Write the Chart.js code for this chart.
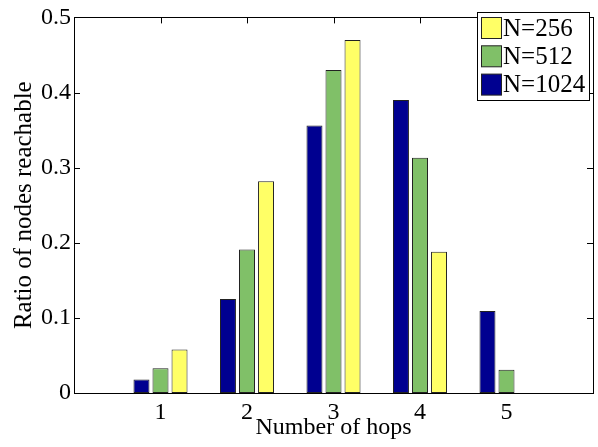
<!DOCTYPE html>
<html>
<head>
<meta charset="utf-8">
<script src="https://cdn.jsdelivr.net/npm/chart.js@4"></script>
<style>
  html, body { margin: 0; padding: 0; background: #fff; }
  canvas { display: block; }
</style>
</head>
<body>
<canvas id="hops-chart" width="598" height="447"></canvas>
<script>
// Values.
const HOPS       = [1, 2, 3, 4, 5];
const N_1024     = [0.018, 0.125, 0.356, 0.390, 0.109];
const N_512      = [0.033, 0.191, 0.430, 0.313, 0.031];
const N_256      = [0.058, 0.282, 0.470, 0.188, 0];
const SERIES     = ['N=1024', 'N=512', 'N=256'];
const Y_TICKS    = [0, 0.1, 0.2, 0.3, 0.4, 0.5];
const X_TICKS    = [1, 2, 3, 4, 5];

const FONT = "'Liberation Serif', 'Times New Roman', serif";
const COLORS = ['#000090', '#80c068', '#ffff66'];

const toPoints = values => values.map((v, i) => ({ x: HOPS[i], y: v }));

// MATLAB-style frame: box around the axes with ticks pointing inward.
const matlabFrame = {
  id: 'matlabFrame',
  beforeDatasetsDraw(chart) {
    const { ctx, chartArea: a, scales: { x, y } } = chart;
    const len = 6;
    ctx.save();
    ctx.strokeStyle = '#000';
    ctx.lineWidth = 1;
    ctx.beginPath();
    X_TICKS.forEach(t => {
      const px = Math.round(x.getPixelForValue(t)) + 0.5;
      ctx.moveTo(px, a.bottom); ctx.lineTo(px, a.bottom - len);
      ctx.moveTo(px, a.top);    ctx.lineTo(px, a.top + len);
    });
    Y_TICKS.forEach(t => {
      const py = Math.round(y.getPixelForValue(t)) + 0.5;
      ctx.moveTo(a.left, py);  ctx.lineTo(a.left + len, py);
      ctx.moveTo(a.right, py); ctx.lineTo(a.right - len, py);
    });
    ctx.stroke();
    ctx.strokeRect(Math.round(a.left) + 0.5, Math.round(a.top) + 0.5,
                   Math.round(a.right - a.left), Math.round(a.bottom - a.top));
    ctx.restore();
  },
  // Legend box inside the top-right corner, series listed last-to-first.
  afterDatasetsDraw(chart) {
    const { ctx } = chart;
    const box = { x: 477.5, y: 12.5, w: 112, h: 88 };
    ctx.save();
    ctx.fillStyle = '#fff';
    ctx.fillRect(box.x, box.y, box.w, box.h);
    ctx.strokeStyle = '#000';
    ctx.lineWidth = 1;
    ctx.strokeRect(box.x, box.y, box.w, box.h);
    ctx.font = `25px ${FONT}`;
    ctx.textBaseline = 'middle';
    const sets = chart.data.datasets.slice().reverse();
    sets.forEach((ds, i) => {
      const top = 17.5 + i * 28.3;
      ctx.fillStyle = ds.backgroundColor;
      ctx.fillRect(481.5, top, 20, 21);
      ctx.strokeStyle = '#222';
      ctx.strokeRect(481.5, top, 20, 21);
      ctx.fillStyle = '#000';
      ctx.fillText(ds.label, 503, top + 11.5);
    });
    ctx.restore();
  }
};

new Chart(document.getElementById('hops-chart'), {
  type: 'bar',
  data: {
    datasets: [N_1024, N_512, N_256].map((values, i) => ({
      label: SERIES[i],
      data: toPoints(values),
      backgroundColor: COLORS[i],
      borderColor: '#222',
      borderWidth: 1,
      borderSkipped: false,
      categoryPercentage: 0.66,
      barPercentage: 0.84
    }))
  },
  options: {
    responsive: false,
    animation: false,
    devicePixelRatio: 1,
    layout: { padding: { top: 9, right: 5, left: 0, bottom: 0 } },
    plugins: { legend: { display: false }, tooltip: { enabled: false } },
    scales: {
      x: {
        type: 'linear',
        min: 0, max: 6,
        offset: false,
        afterFit: scale => { scale.height = 54; },
        afterBuildTicks: scale => { scale.ticks = X_TICKS.map(v => ({ value: v })); },
        grid: { display: false, drawTicks: false },
        border: { display: false },
        ticks: { color: '#000', font: { family: FONT, size: 24 }, padding: 5, maxRotation: 0 },
        title: { display: true, text: 'Number of hops', color: '#000',
                 font: { family: FONT, size: 24, lineHeight: 1 }, padding: { top: 0, bottom: 7 } }
      },
      y: {
        min: 0, max: 0.5,
        afterFit: scale => { scale.width = 74; },
        afterBuildTicks: scale => { scale.ticks = Y_TICKS.map(v => ({ value: v })); },
        grid: { display: false, drawTicks: false },
        border: { display: false },
        ticks: { color: '#000', font: { family: FONT, size: 24 }, padding: 3,
                 callback: v => String(+v.toFixed(1)) },
        title: { display: true, text: 'Ratio of nodes reachable', color: '#000',
                 font: { family: FONT, size: 25, lineHeight: 1 }, padding: { top: 12, bottom: 0 } }
      }
    }
  },
  plugins: [matlabFrame]
});
</script>
</body>
</html>
